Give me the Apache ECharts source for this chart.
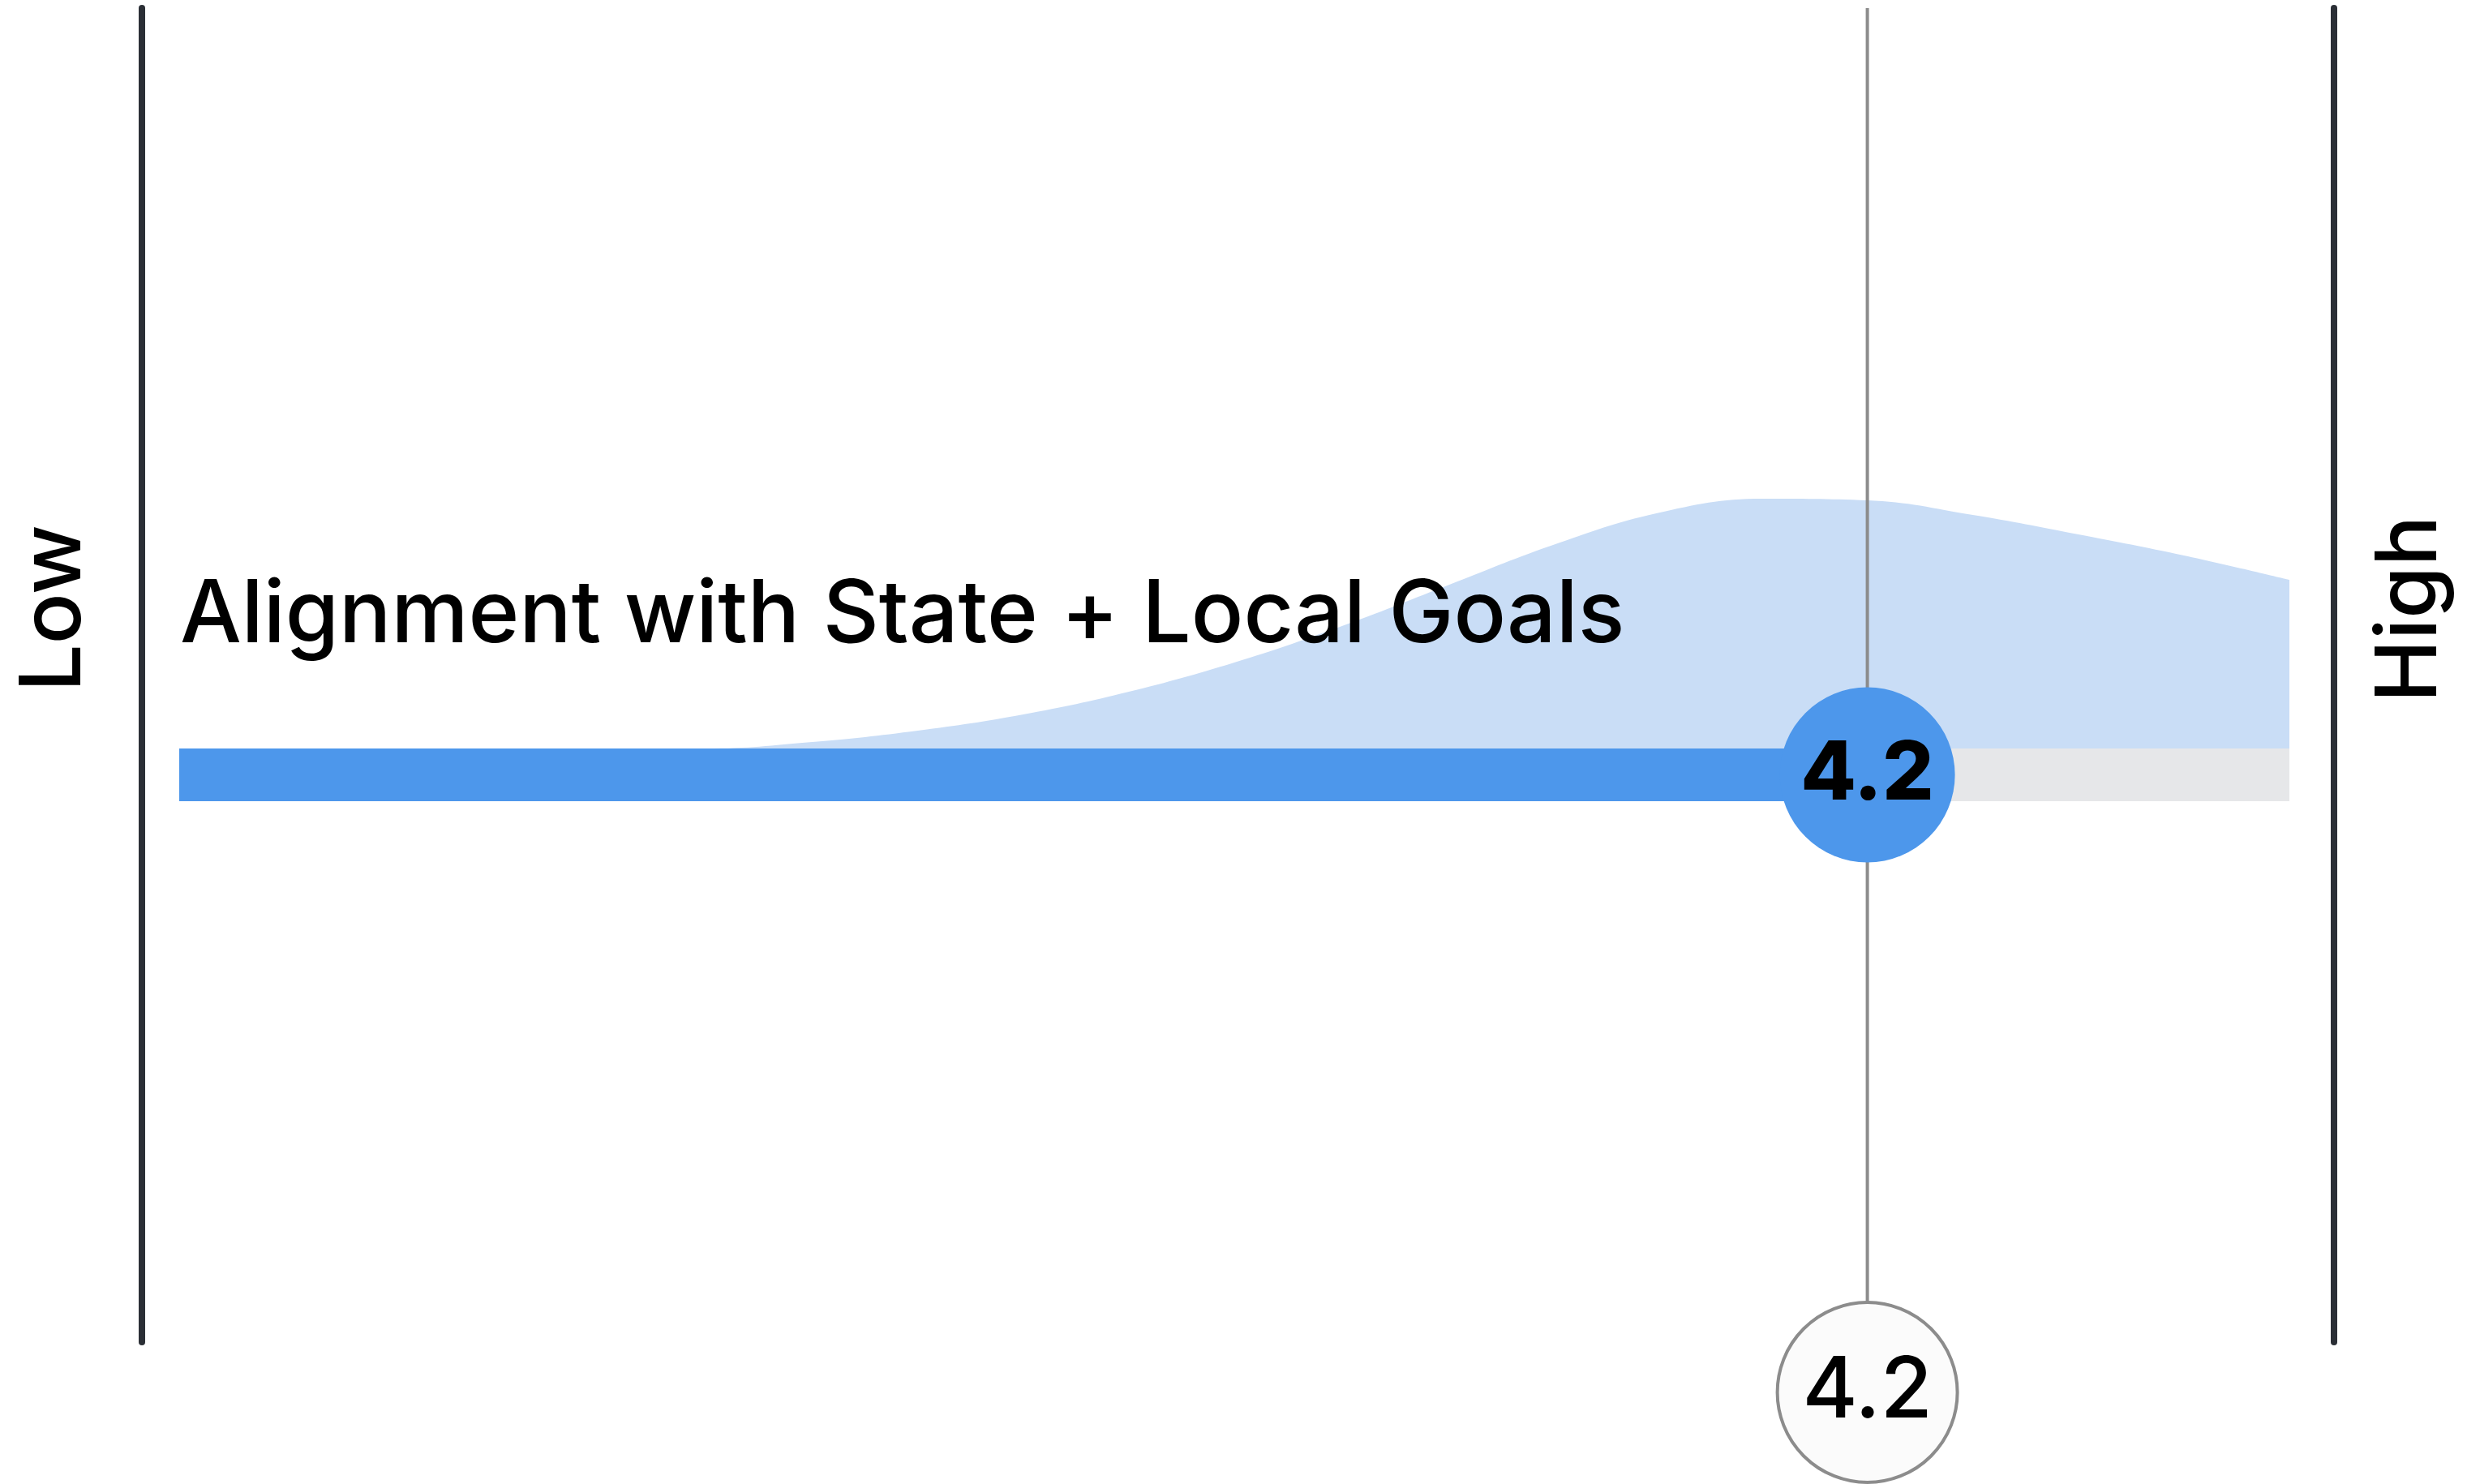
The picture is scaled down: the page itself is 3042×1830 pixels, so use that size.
<!DOCTYPE html>
<html>
<head>
<meta charset="utf-8">
<script src="https://cdn.jsdelivr.net/npm/echarts@6/dist/echarts.min.js"></script>
<style>
html,body{margin:0;padding:0;background:#ffffff;}
#chart{width:3042px;height:1830px;}
</style>
</head>
<body>
<div id="chart"></div>
<script>
// ---- data ----
const categories = ['Alignment with State + Local Goals'];
const scores = [4.2];
const scaleMin = 1;
const scaleMax = 5;
const endLabels = ['Low', 'High'];
const densityX = [1.0, 1.5, 2.0, 2.2, 2.4, 2.6, 2.8, 3.0, 3.2, 3.4, 3.6, 3.8, 4.0, 4.2, 4.4, 4.6, 4.8, 5.0];
const densityY = [0, 0, 0, 0.008, 0.022, 0.042, 0.070, 0.106, 0.150, 0.200, 0.250, 0.290, 0.308, 0.306, 0.288, 0.264, 0.238, 0.208];

const FONT = 'Inter';
const chart = echarts.init(document.getElementById('chart'), null, {renderer: 'canvas'});

const hiddenX = (gi) => ({
  type: 'value', gridIndex: gi, min: scaleMin, max: scaleMax,
  show: false, splitLine: {show: false}
});

const option = {
  backgroundColor: '#ffffff',
  animation: false,
  grid: [
    {left: 175, right: 164, top: 10, bottom: 175},          // 0 frame
    {left: 221, right: 219, top: 423, bottom: 907},         // 1 density
    {left: 221, right: 219, top: 923, bottom: 842},         // 2 bar
    {left: 221, right: 219, top: 10, bottom: 113}           // 3 marker line
  ],
  xAxis: [
    {type: 'value', gridIndex: 0, min: 0, max: 1, show: false},
    hiddenX(1), hiddenX(2), hiddenX(3)
  ],
  yAxis: [
    {type: 'value', gridIndex: 0, min: 0, max: 1, position: 'left',
      axisLine: {show: true, lineStyle: {color: '#2b2f36', width: 8}},
      axisTick: {show: false}, axisLabel: {show: false}, splitLine: {show: false}},
    {type: 'value', gridIndex: 0, min: 0, max: 1, position: 'right',
      axisLine: {show: true, lineStyle: {color: '#2b2f36', width: 8}},
      axisTick: {show: false}, axisLabel: {show: false}, splitLine: {show: false}},
    {type: 'value', gridIndex: 1, min: 0, max: 0.5, show: false, splitLine: {show: false}},
    {type: 'category', gridIndex: 2, data: categories, show: false},
    {type: 'value', gridIndex: 3, min: 0, max: 1, show: false, splitLine: {show: false}}
  ],
  graphic: [
    {type: 'text', x: 68, y: 750, rotation: Math.PI / 2,
      style: {text: endLabels[0], font: '500 104px ' + FONT, fill: '#000', align: 'center', verticalAlign: 'middle'}},
    {type: 'text', x: 2973, y: 751, rotation: Math.PI / 2,
      style: {text: endLabels[1], font: '500 104px ' + FONT, fill: '#000', align: 'center', verticalAlign: 'middle'}},
    {type: 'text', x: 222, y: 760, z: 10,
      style: {text: categories[0], font: '500 107px ' + FONT, fill: '#000', align: 'left', verticalAlign: 'middle'}}
  ],
  series: [
    {
      type: 'line', xAxisIndex: 1, yAxisIndex: 2, z: 1,
      data: densityX.map((x, i) => [x, densityY[i]]),
      smooth: 0.4, symbol: 'none',
      lineStyle: {width: 0, opacity: 0},
      areaStyle: {color: '#c9ddf6', opacity: 1}
    },
    {
      type: 'bar', xAxisIndex: 2, yAxisIndex: 3, z: 2,
      data: scores, barWidth: 65, clip: true,
      itemStyle: {color: '#4d97eb'},
      showBackground: true,
      backgroundStyle: {color: '#e6e7e9', opacity: 1}
    },
    {
      type: 'line', xAxisIndex: 3, yAxisIndex: 4, z: 3,
      data: [[scores[0], 1], [scores[0], 0]],
      symbol: 'none',
      lineStyle: {color: '#8c8c8c', width: 4}
    },
    {
      type: 'scatter', xAxisIndex: 3, yAxisIndex: 4, z: 4,
      data: [[scores[0], 0]],
      symbol: 'circle', symbolSize: 222,
      itemStyle: {color: '#fbfbfb', borderColor: '#8c8c8c', borderWidth: 4, opacity: 1},
      label: {show: true, position: 'inside', formatter: () => scores[0].toFixed(1),
        fontFamily: FONT, fontSize: 104, fontWeight: 500, color: '#000'}
    },
    {
      type: 'scatter', xAxisIndex: 2, yAxisIndex: 3, z: 5,
      data: [[scores[0], 0]],
      symbol: 'circle', symbolSize: 216,
      itemStyle: {color: '#4d97eb', opacity: 1},
      label: {show: true, position: 'inside', formatter: () => scores[0].toFixed(1),
        fontFamily: FONT, fontSize: 100, fontWeight: 800, color: '#000', letterSpacing: -4}
    }
  ]
};
chart.setOption(option);
</script>
</body>
</html>
